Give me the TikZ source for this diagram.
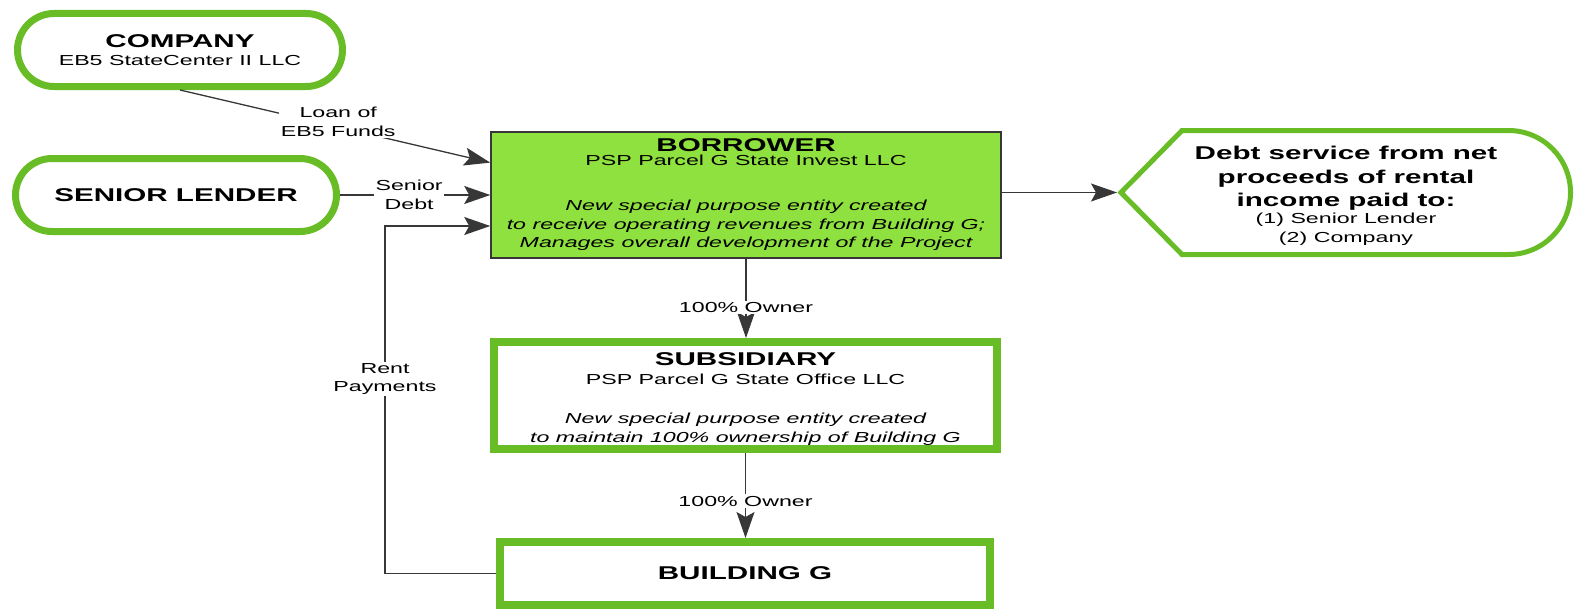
\documentclass[tikz,border=0pt]{standalone}
\usepackage{fontspec}
\setmainfont{Liberation Sans}[FakeStretch=1.6]
\usetikzlibrary{arrows.meta,calc}
\definecolor{gborder}{RGB}{104,189,38}
\definecolor{gfill}{RGB}{142,225,62}
\definecolor{lnc}{RGB}{55,55,55}
\newcommand\ftitle{\fontsize{18.5}{18.5}\selectfont\bfseries}
\newcommand\fsmall{\fontsize{14.5}{18.5}\selectfont}
\begin{document}
\begin{tikzpicture}[x=1pt,y=-1pt,
  stadium/.style={draw=gborder,line width=7pt,fill=white,rounded corners=36.5pt,minimum width=325pt,minimum height=73pt,inner sep=0pt,align=center},
  entity/.style={draw=gborder,line width=8pt,fill=white,inner sep=0pt,align=center},
  borrowerbox/.style={draw=lnc,line width=1.5pt,fill=gfill,inner sep=0pt,align=center},
  conn/.style={draw=lnc,line width=1.3pt,-{Stealth[length=26pt,width=18pt,inset=5pt]}},
  lbl/.style={fill=white,inner sep=1.5pt,align=center,font=\fsmall,text=black}
]
\useasboundingbox (0,0) rectangle (1578,610);

% entities
\node[stadium,font=\fsmall] (company) at (180,50) {{\ftitle COMPANY}\\ EB5 StateCenter II LLC};
\node[stadium,minimum width=321pt,font=\ftitle] (senior) at (176,195) {SENIOR LENDER};

\node[borrowerbox,minimum width=510pt,minimum height=126pt,font=\fsmall] (borrower) at (746,195)
  {{\ftitle BORROWER}\\[-5pt] PSP Parcel G State Invest LLC\\[27pt]
   \itshape New special purpose entity created\\
   \itshape to receive operating revenues from Building G;\\
   \itshape Manages overall development of the Project};

\node[entity,minimum width=503pt,minimum height=107pt,font=\fsmall] (subsidiary) at (745.5,395.5)
  {{\ftitle\rule{0pt}{19.5pt}SUBSIDIARY}\\[0.5pt] PSP Parcel G State Office LLC\\[20.5pt]
   \itshape New special purpose entity created\\
   \itshape to maintain 100\% ownership of Building G};

\node[entity,minimum width=490pt,minimum height=63pt,font=\ftitle] (building) at (745,573.5) {BUILDING G};

% debt service shape
\draw[draw=gborder,line width=5pt,fill=white,line join=miter]
  (1121,192.5) -- (1182,130.5) -- (1508.5,130.5) arc[start angle=90,end angle=-90,radius=62pt]
  -- (1182,254.5) -- cycle;
\coordinate (debtpt) at (1117,192.5);
\node[align=center,font=\fsmall] (debt) at (1346,196)
  {{\ftitle Debt service from net}\\[5pt]
   {\ftitle proceeds of rental}\\[5pt]
   {\ftitle income paid to:}\\[-1.5pt]
   (1) Senior Lender\\[0.5pt]
   (2) Company};

% connectors
\coordinate (rc) at (385,226);
\draw[conn] (company.south) -- node[lbl,pos=0.51,yshift=5pt] {Loan of\\EB5 Funds}
  ($(borrower.north west)!0.246!(borrower.south west)$);
\draw[conn] (senior.east) -- node[lbl,pos=0.46] {Senior\\Debt} (borrower.west);
\draw[conn] (building.west) -| node[lbl,pos=0.78] {Rent\\Payments} (rc) -- (borrower.west |- rc);
\draw[conn] (borrower.south) -- node[lbl,pos=0.615] {100\% Owner} (borrower.south |- subsidiary.north);
\draw[conn] (subsidiary.south) -- node[lbl,pos=0.565] {100\% Owner} (subsidiary.south |- building.north);
\draw[conn] (borrower.east |- debtpt) -- (debtpt);
\end{tikzpicture}
\end{document}
